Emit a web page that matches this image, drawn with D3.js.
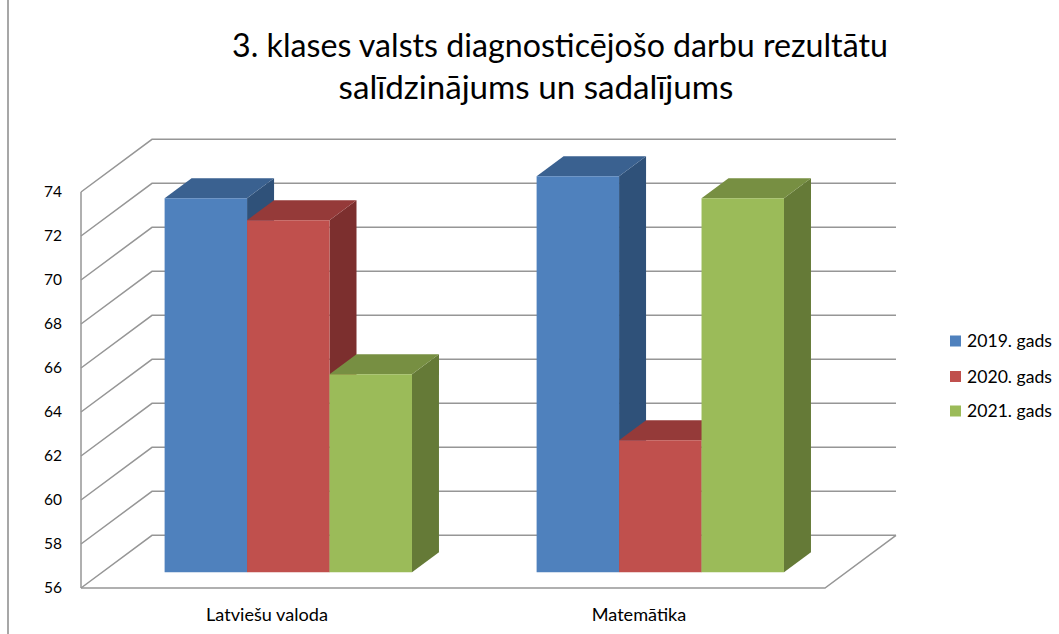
<!DOCTYPE html>
<html>
<head>
<meta charset="utf-8">
<script src="https://cdn.jsdelivr.net/npm/d3@7"></script>
<style>
  html, body { margin: 0; padding: 0; background: #fff; }
  svg { display: block; }
  text { font-family: "Lato", "Open Sans", sans-serif; fill: #000; }
</style>
</head>
<body>
<svg id="chart" width="1059" height="634"></svg>
<script>
const categories = ["Latviešu valoda", "Matemātika"];
const seriesNames = ["2019. gads", "2020. gads", "2021. gads"];
const values2019 = [73, 74];
const values2020 = [72, 62];
const values2021 = [65, 73];
const yTicks = [56, 58, 60, 62, 64, 66, 68, 70, 72, 74];
const titleLines = ["3. klases valsts diagnosticējošo darbu rezultātu", "salīdzinājums un sadalījums"];

const seriesValues = [values2019, values2020, values2021];
const colors = [
  {front: "#4F81BD", top: "#3A6190", side: "#2F5179"},
  {front: "#C0504D", top: "#953A39", side: "#7C2F2E"},
  {front: "#9BBB59", top: "#778F42", side: "#657A37"}
];

const svg = d3.select("#chart");
const DX = 71, DY = 52.7;
const Z0 = 0.30, Z1 = 0.68;
const gridColor = "#969696";

const x = d3.scaleBand().domain(categories).range([81, 825]).paddingInner(0).paddingOuter(0);
const y = d3.scaleLinear().domain([56, 74]).range([588, 192]);
const groupW = x.bandwidth() * 0.665;
const xs = d3.scaleBand().domain(seriesNames).range([0, groupW]);

const P = (px, v, z) => [px + z * DX, y(v) - z * DY];

const fitSize = (sel, target, base) => {
  sel.style("font-size", base + "px");
  const w = sel.node().getComputedTextLength();
  return base * target / w;
};

svg.append("line").attr("x1", 8).attr("x2", 8).attr("y1", 0).attr("y2", 634)
  .attr("stroke", "#8a8a8a").attr("stroke-width", 1.5);

const grid = svg.append("g").attr("fill", "none").attr("stroke", gridColor).attr("stroke-width", 1.5);
yTicks.forEach(t => {
  grid.append("path").attr("d", d3.line()([P(81, t, 0), P(81, t, 1), P(825, t, 1)]));
});
grid.append("path").attr("d", d3.line()([P(81, 74, 0), P(81, 56, 0)]));
grid.append("path").attr("d", d3.line()([P(81, 56, 0), P(825, 56, 0), P(825, 56, 1)]));

// y axis labels
const yAxis = d3.axisLeft(y).tickValues(yTicks).tickSize(0).tickPadding(19);
const gy = svg.append("g").attr("transform", "translate(81,0)").call(yAxis);
gy.select(".domain").remove();
gy.selectAll("text").style("font-family", "Lato, 'Open Sans', sans-serif").attr("fill", "#000");
const tickFs = fitSize(gy.selectAll("text").filter(d => d === 74), 18, 16);
gy.selectAll("text").style("font-size", tickFs.toFixed(2) + "px");

// x axis labels
const xAxis = d3.axisBottom(x).tickSize(0).tickPadding(20);
const gx = svg.append("g").attr("transform", "translate(0,588)").call(xAxis);
gx.select(".domain").remove();
gx.selectAll("text").style("font-family", "Lato, 'Open Sans', sans-serif").attr("fill", "#000");
const catFs = fitSize(gx.selectAll("text").filter(d => d === categories[0]), 122, 15);
gx.selectAll("text").style("font-size", catFs.toFixed(2) + "px");

// bars
const bars = svg.append("g");
categories.forEach((cat, ci) => {
  const gStart = x(cat) + (x.bandwidth() - groupW) / 2;
  seriesNames.forEach((s, si) => {
    const v = seriesValues[si][ci];
    const x0 = gStart + xs(s), x1 = x0 + xs.bandwidth();
    const col = colors[si];
    const front = [P(x0, v, Z0), P(x1, v, Z0), P(x1, 56, Z0), P(x0, 56, Z0)];
    const top = [P(x0, v, Z0), P(x1, v, Z0), P(x1, v, Z1), P(x0, v, Z1)];
    const side = [P(x1, v, Z0), P(x1, v, Z1), P(x1, 56, Z1), P(x1, 56, Z0)];
    bars.append("path").attr("d", d3.line()(side) + "Z").attr("fill", col.side);
    bars.append("path").attr("d", d3.line()(top) + "Z").attr("fill", col.top);
    bars.append("path").attr("d", d3.line()(front) + "Z").attr("fill", col.front);
  });
});

// title
const title = svg.append("g");
const t1 = title.append("text").attr("x", 560).attr("y", 57).attr("text-anchor", "middle").text(titleLines[0]);
t1.style("font-size", fitSize(t1, 656, 31).toFixed(2) + "px");
const t2 = title.append("text").attr("x", 536).attr("y", 99).attr("text-anchor", "middle").text(titleLines[1]);
t2.style("font-size", fitSize(t2, 395, 31).toFixed(2) + "px");

// legend
const leg = svg.append("g");
const legY = [341, 376.5, 411];
let legFs = null;
seriesNames.forEach((s, i) => {
  leg.append("rect").attr("x", 950).attr("y", legY[i] - 5.5).attr("width", 11).attr("height", 11).attr("fill", colors[i].front);
  const t = leg.append("text").attr("x", 967).attr("y", legY[i]).attr("dy", "0.35em").text(s);
  if (legFs === null) legFs = fitSize(t, 85, 15);
  t.style("font-size", legFs.toFixed(2) + "px");
});
</script>
</body>
</html>
